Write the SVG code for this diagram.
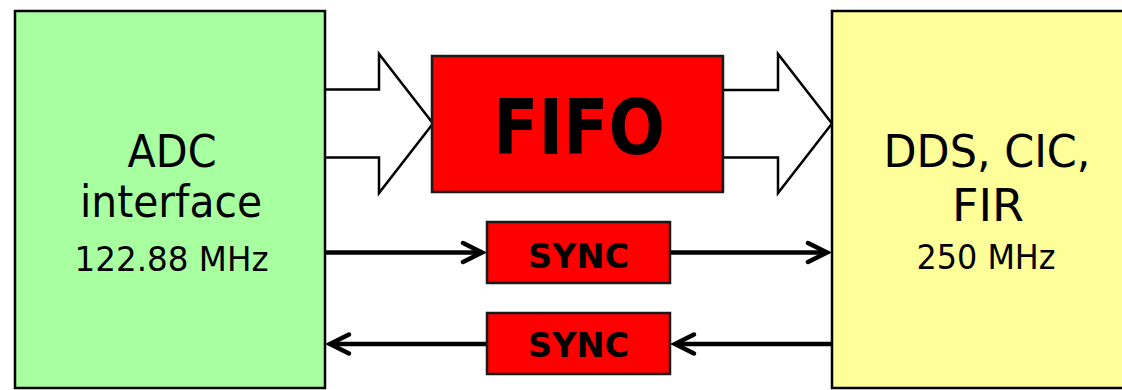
<svg xmlns="http://www.w3.org/2000/svg" width="1122" height="390" viewBox="0 0 1122 390">
  <style>
    .box { stroke: #000; stroke-width: 2.5; }
    .red { fill: #ff0000; stroke: #1a1a1a; stroke-width: 2.5; }
    .lbl { font-family: "DejaVu Sans", Verdana, sans-serif; fill: #000; text-anchor: middle; }
    .big { font-size: 44px; }
    .small { font-size: 33px; }
    .bold { font-weight: bold; }
    .bus { fill: #fff; stroke: #000; stroke-width: 2.5; stroke-linejoin: miter; }
    .sig { fill: none; stroke: #000; stroke-width: 4.5; }
  </style>
  <defs>
    <marker id="chev" markerUnits="userSpaceOnUse" orient="auto" overflow="visible" refX="0" refY="0" markerWidth="1" markerHeight="1">
      <path d="M -19 -9.5 L 0 0 L -19 9.5" fill="none" stroke="#000" stroke-width="4.5" stroke-linecap="round" stroke-linejoin="miter"/>
    </marker>
  </defs>

  <!-- connectors -->
  <g id="connectors">
    <!-- wide data paths -->
    <path class="bus" d="M325 89.5 H379 V54 L433 123.5 L379 193 V157.5 H325"/>
    <path class="bus" d="M723 90 H778 V54 L832 123.5 L778 193 V157.5 H723"/>
    <!-- sync signals -->
    <path class="sig" d="M326 252.5 H482" marker-end="url(#chev)"/>
    <path class="sig" d="M670 252.5 H827" marker-end="url(#chev)"/>
    <path class="sig" d="M831 344 H675" marker-end="url(#chev)"/>
    <path class="sig" d="M487 344 H330" marker-end="url(#chev)"/>
  </g>

  <g id="adc">
    <rect class="box" x="15" y="11" width="310" height="377" fill="#a8ffa0"/>
    <text class="lbl big" x="172" y="167" textLength="89" lengthAdjust="spacingAndGlyphs">ADC</text>
    <text class="lbl big" x="171" y="217" textLength="182" lengthAdjust="spacingAndGlyphs">interface</text>
    <text class="lbl small" x="171.5" y="271" textLength="194" lengthAdjust="spacingAndGlyphs">122.88 MHz</text>
  </g>

  <g id="dds">
    <rect class="box" x="832" y="11" width="300" height="377" fill="#ffff99"/>
    <text class="lbl big" x="987" y="167" textLength="207" lengthAdjust="spacingAndGlyphs">DDS, CIC,</text>
    <text class="lbl big" x="988" y="221" textLength="72" lengthAdjust="spacingAndGlyphs">FIR</text>
    <text class="lbl small" x="986" y="269" textLength="139" lengthAdjust="spacingAndGlyphs">250 MHz</text>
  </g>

  <g id="fifo">
    <rect class="red" x="432" y="56" width="291" height="136"/>
    <text class="lbl bold" x="579" y="154" font-size="76" textLength="172" lengthAdjust="spacingAndGlyphs">FIFO</text>
  </g>

  <g id="sync-up">
    <rect class="red" x="487" y="222" width="183" height="61"/>
    <text class="lbl bold" x="578.5" y="268" font-size="34" textLength="101" lengthAdjust="spacingAndGlyphs">SYNC</text>
  </g>

  <g id="sync-down">
    <rect class="red" x="487" y="313" width="183" height="61"/>
    <text class="lbl bold" x="578.5" y="357" font-size="34" textLength="101" lengthAdjust="spacingAndGlyphs">SYNC</text>
  </g>
</svg>
